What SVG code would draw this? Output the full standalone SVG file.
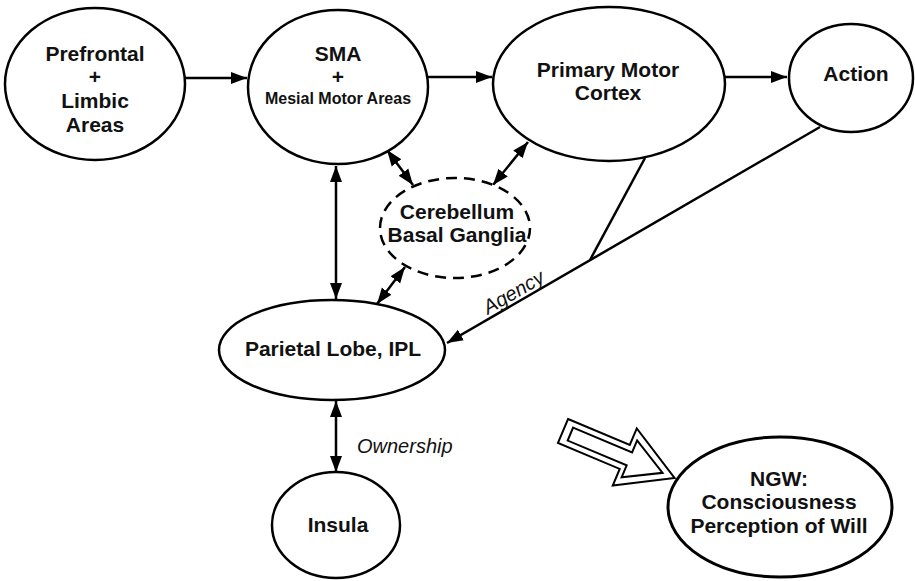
<svg xmlns="http://www.w3.org/2000/svg" width="915" height="581" viewBox="0 0 915 581">
<style>
.n{fill:#fff;stroke:#000;stroke-width:2.5}
.d{fill:#fff;stroke:#000;stroke-width:2.5;stroke-dasharray:11 7}
.t{font-family:"Liberation Sans",Arial,sans-serif;font-weight:bold;font-size:21px;text-anchor:middle;fill:#111}
.s{font-size:16px}
.i{font-family:"Liberation Sans",Arial,sans-serif;font-style:italic;font-size:20px;fill:#111}
.c{fill:none;stroke:#000;stroke-width:2.5}
.a{marker-end:url(#ah)}
.b{marker-end:url(#ah);marker-start:url(#ah)}
</style>
<defs>
<marker id="ah" markerUnits="userSpaceOnUse" markerWidth="17" markerHeight="13" refX="16" refY="6.5" orient="auto-start-reverse">
<path d="M0,0.5 L16,6.5 L0,12.5 z" fill="#000"/>
</marker>
</defs>
<g id="connectors">
<line class="c a" x1="185" y1="78" x2="247" y2="78"/>
<line class="c a" x1="428" y1="77" x2="492" y2="77"/>
<line class="c a" x1="725" y1="77" x2="787" y2="77"/>
<line class="c b" x1="336" y1="166" x2="336" y2="299"/>
<line class="c b" x1="387" y1="150" x2="413" y2="185"/>
<line class="c b" x1="528" y1="142" x2="493" y2="185"/>
<line class="c b" x1="405" y1="267" x2="377" y2="304"/>
<line class="c b" x1="336" y1="401" x2="336" y2="472"/>
<line class="c" x1="645" y1="158" x2="590" y2="260"/>
<line class="c a" x1="820" y1="127" x2="447" y2="343"/>
<text class="i" transform="translate(517,298) rotate(-30)" text-anchor="middle">Agency</text>
<text class="i" x="357" y="453">Ownership</text>
</g>
<g id="prefrontal">
<ellipse class="n" cx="95" cy="84" rx="90" ry="76"/>
<text class="t" x="95" y="61">Prefrontal</text>
<text class="t" x="95" y="84">+</text>
<text class="t" x="95" y="108">Limbic</text>
<text class="t" x="95" y="132">Areas</text>
</g>
<g id="sma">
<ellipse class="n" cx="338" cy="87" rx="90" ry="77"/>
<text class="t" x="338" y="61">SMA</text>
<text class="t" x="338" y="84">+</text>
<text class="t s" x="338" y="104">Mesial Motor Areas</text>
</g>
<g id="pmc">
<ellipse class="n" cx="609" cy="84" rx="116" ry="77"/>
<text class="t" x="608" y="77">Primary Motor</text>
<text class="t" x="608" y="100">Cortex</text>
</g>
<g id="action">
<ellipse class="n" cx="851" cy="78" rx="62" ry="54"/>
<text class="t" x="856" y="81">Action</text>
</g>
<g id="cerebellum">
<ellipse class="d" cx="455" cy="228" rx="75" ry="50"/>
<text class="t" x="457" y="219">Cerebellum</text>
<text class="t" x="457" y="242">Basal Ganglia</text>
</g>
<g id="parietal">
<ellipse class="n" cx="332" cy="350" rx="113" ry="50"/>
<text class="t" x="333" y="356">Parietal Lobe, IPL</text>
</g>
<g id="insula">
<ellipse class="n" cx="336" cy="525" rx="64" ry="53"/>
<text class="t" x="338" y="532">Insula</text>
</g>
<g id="ngw-arrow" transform="translate(563,431) rotate(22.8)">
<polygon points="0,-13 67,-13 67,-31 121,0 67,31 67,13 0,13" fill="#fff" stroke="#000" stroke-width="2"/>
<polygon points="8,-7 72,-7 72,-20 108,0 72,20 72,7 8,7" fill="#fff" stroke="#000" stroke-width="2"/>
</g>
<g id="ngw">
<ellipse cx="780" cy="507" rx="112" ry="70" fill="#fff" stroke="#000" stroke-width="3"/>
<text class="t" x="779" y="486">NGW:</text>
<text class="t" x="779" y="509">Consciousness</text>
<text class="t" x="779" y="533">Perception of Will</text>
</g>
</svg>
